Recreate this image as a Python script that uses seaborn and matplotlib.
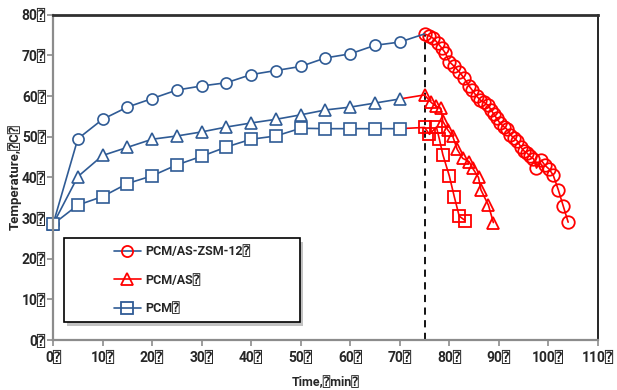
import matplotlib
matplotlib.use('Agg')
import matplotlib.pyplot as plt
import seaborn as sns
from matplotlib.lines import Line2D
from matplotlib.patches import Rectangle

# Heating (blue) series, time in min
heat_time = [0, 5, 10, 15, 20, 25, 30, 35, 40, 45, 50, 55, 60, 65, 70]
zsm_heat = [28.5, 49.5, 54.3, 57.3, 59.4, 61.5, 62.5, 63.3, 65.3, 66.3, 67.3, 69.4, 70.4, 72.5, 73.3]
as_heat = [28.5, 40.2, 45.4, 47.4, 49.4, 50.2, 51.2, 52.4, 53.4, 54.3, 55.4, 56.6, 57.3, 58.3, 59.3]
pcm_heat = [28.5, 33.2, 35.3, 38.5, 40.4, 43.1, 45.2, 47.5, 49.4, 50.2, 52.1, 52.0, 52.0, 52.0, 52.0]

# Cooling (red) series
zsm_cool_time = [75, 76, 76.8, 77.7, 78.5, 79.2, 80, 81, 82, 83, 84, 84.6, 85.5, 86.3, 87,
                 87.8, 88.4, 89, 89.6, 90.2, 91, 91.7, 92.3, 93, 93.7, 94.4, 95, 95.7, 96.3,
                 97, 97.6, 98.6, 99.3, 100.2, 101, 102, 103, 104]
zsm_cool = [75.3, 74.8, 74.2, 73, 71.8, 70.6, 68.5, 67.3, 66, 64.4, 62.5, 61.5, 60, 59, 58.5,
            57.8, 56.7, 55.5, 54.5, 53.4, 52.5, 51.8, 50.5, 49.8, 49, 47.6, 46.6, 46, 45.2,
            44.6, 42.3, 44.2, 43, 42, 40.5, 37, 33, 29]
as_cool_time = [70, 75, 76.3, 77.3, 78.3, 78.7, 79.7, 80.7, 81.6, 82.7, 84, 84.7, 85.9, 86.4, 87.9, 88.9]
as_cool = [59.3, 60.3, 58.5, 57.5, 57, 53.8, 51.7, 50.1, 46.9, 44.7, 43.9, 42.3, 40, 36.9, 33.2, 28.9]
pcm_cool_time = [70, 75, 76, 77.4, 78, 78.7, 80, 81, 82, 83.2]
pcm_cool = [52.0, 52.3, 50.6, 52.4, 49.4, 45.6, 40.4, 35.3, 30.5, 29.4]

cool_start = 75
peak_temp = 75.3
tofu = '\u2370'
x_ticks = [0, 10, 20, 30, 40, 50, 60, 70, 80, 90, 100, 110]
y_ticks = [0, 10, 20, 30, 40, 50, 60, 70, 80]
labels = ['PCM/AS-ZSM-12' + tofu, 'PCM/AS' + tofu, 'PCM' + tofu]

blue = '#2F5B95'
red = '#FF0000'

sns.set_style('white')
plt.rcParams['font.family'] = ['Roboto', 'DejaVu Sans', 'DejaVu Sans Mono']
plt.rcParams['font.weight'] = 'bold'

fig = plt.figure(figsize=(6.17, 3.9), dpi=100)
ax = fig.add_axes([0.086, 0.128, 0.883, 0.834])

ms = 8
common = dict(sort=False, estimator=None, ax=ax, lw=1.2, clip_on=False)
# cooling curves first (red)
sns.lineplot(x=zsm_cool_time, y=zsm_cool, color=red, marker='o', ms=ms + 1,
             mfc='none', mec=red, mew=1.3, **common)
sns.lineplot(x=as_cool_time, y=as_cool, color=red, marker='^', ms=ms, mfc='none', mec=red,
             mew=1.3, markevery=slice(1, None), **common)
sns.lineplot(x=pcm_cool_time, y=pcm_cool, color=red, marker='s', ms=ms, mfc='none', mec=red,
             mew=1.3, markevery=slice(1, None), **common)

# heating curves (blue)
sns.lineplot(x=heat_time + [cool_start], y=zsm_heat + [zsm_cool[0]], color=blue, marker='o',
             ms=ms, mfc='white', mec=blue, mew=1.2, markevery=slice(0, len(heat_time)), **common)
sns.lineplot(x=heat_time, y=as_heat, color=blue, marker='^', ms=ms, mfc='white', mec=blue,
             mew=1.2, **common)
sns.lineplot(x=heat_time, y=pcm_heat, color=blue, marker='s', ms=ms, mfc='white', mec=blue,
             mew=1.2, **common)

ax.vlines(cool_start, 0, peak_temp, colors='black', linestyles=(0, (4, 3)), lw=1.3, zorder=1)

ax.set_xlim(0, 110)
ax.set_ylim(0, 80)
ax.set_xticks(x_ticks)
ax.set_yticks(y_ticks)
ax.set_xticklabels([f'{v}{tofu}' for v in x_ticks], fontsize=10, fontweight='bold')
ax.set_yticklabels([f'{v}{tofu}' for v in y_ticks], fontsize=10, fontweight='bold')
ax.tick_params(axis='both', direction='out', length=4, width=1.2, color='#8C8C8C',
               bottom=True, left=True)
ax.tick_params(axis='x', pad=4)
ax.tick_params(axis='y', pad=1)
ax.set_xlabel('Time,' + tofu + 'min' + tofu, fontsize=9, fontweight='bold', labelpad=8)
ax.set_ylabel('Temperature,' + tofu + 'C' + tofu, fontsize=9.5, fontweight='bold', labelpad=0)

for side in ['left', 'bottom']:
    ax.spines[side].set_color('#8C8C8C')
    ax.spines[side].set_linewidth(1.6)
ax.spines['top'].set_color('#303030')
ax.spines['top'].set_linewidth(2)
ax.spines['right'].set_color('black')
ax.spines['right'].set_linewidth(1.2)

# legend box with shadow
box = (0.02, 0.055, 0.433, 0.258)
ax.add_patch(Rectangle((box[0] + 0.006, box[1] - 0.012), box[2], box[3], transform=ax.transAxes,
                       facecolor='#9A9A9A', edgecolor='none', alpha=0.6, zorder=4))
ax.add_patch(Rectangle(box[:2], box[2], box[3], transform=ax.transAxes,
                       facecolor='white', edgecolor='black', lw=1.2, zorder=5))
handles = [
    Line2D([], [], color=blue, lw=1.2, marker='o', ms=ms, mfc='none', mec=red, mew=1.3),
    Line2D([], [], color=red, lw=1.2, marker='^', ms=ms, mfc='none', mec=red, mew=1.3),
    Line2D([], [], color=blue, lw=1.2, marker='s', ms=ms, mfc='none', mec=blue, mew=1.3),
]
leg = ax.legend(handles, labels, loc='center', bbox_to_anchor=(box[0] + box[2] / 2, box[1] + box[3] / 2),
                frameon=False, prop={'size': 9, 'weight': 'bold'}, labelspacing=1.25,
                handlelength=2.2, handletextpad=0.3)
leg.set_zorder(6)

fig.savefig('out.png', dpi=100)
